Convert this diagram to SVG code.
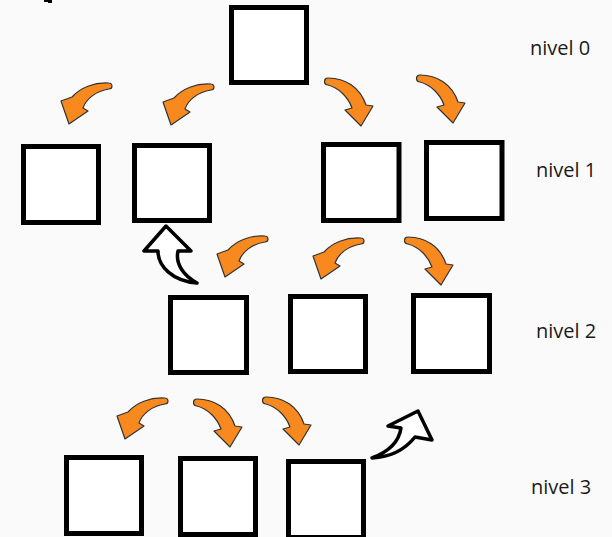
<svg xmlns="http://www.w3.org/2000/svg" width="612" height="537" viewBox="0 0 612 537">
  <style>
    .box { fill: #ffffff; stroke: #000000; stroke-width: 5; }
    .lbl { font-family: "Open Sans", "Noto Sans", "DejaVu Sans", sans-serif; font-size: 20px; fill: #1a1a1a; }
    .org { fill: #f7891f; stroke: #333333; stroke-width: 1.2; stroke-linejoin: round; }
    .wht { fill: #ffffff; stroke: #000000; stroke-width: 3.5; stroke-linejoin: round; }
  </style>
  <defs>
    <path id="arrL" class="org" d="M48,1 C33,0 19,6 11,15 L0,19 L8,42 L27,29 L22,26 C25,17 35,9 48,7 A3,3 0 0 0 48,1 Z"/>
    <path id="arrR" class="org" d="M3,1 C20,1 35,10 41,28 L48,29 L36,49 L20,33 L27,31 C23,20 14,11 3,8 A3.5,3.5 0 0 1 3,1 Z"/>
  </defs>
  <rect x="0" y="0" width="612" height="537" fill="#fafafa"/>
  <path d="M44,0 H52 V3 H48 V2 H44 Z" fill="#000"/>

  <g id="connectors">
    <use href="#arrL" x="61" y="82"/>
    <use href="#arrL" x="163" y="83"/>
    <use href="#arrR" x="325" y="77"/>
    <use href="#arrR" x="417" y="74"/>
    <use href="#arrL" x="217" y="235"/>
    <use href="#arrL" x="313" y="237"/>
    <use href="#arrR" x="405" y="236"/>
    <use href="#arrL" x="117" y="397"/>
    <use href="#arrR" x="194" y="398"/>
    <use href="#arrR" x="263" y="396"/>
    <path class="wht" d="M166,226 L144,251 L158,251 C158,266 172,281 197,283 C184,276 175,264 178,251 L191,251 Z"/>
    <path class="wht" d="M418,411 L388,426 L401,428 C399,442 388,452 372,458 C393,457 407,447 415,437 L432,440 Z"/>
  </g>

  <g id="n0"><rect class="box" x="231.5" y="7.5" width="75" height="75"/></g>
  <g id="n1a"><rect class="box" x="23.5" y="146.5" width="75" height="76"/></g>
  <g id="n1b"><rect class="box" x="134.5" y="145.5" width="75" height="75"/></g>
  <g id="n1c"><rect class="box" x="323.5" y="144.5" width="75.5" height="76"/></g>
  <g id="n1d"><rect class="box" x="426.5" y="142.5" width="75.5" height="76"/></g>
  <g id="n2a"><rect class="box" x="170.5" y="297.5" width="76" height="75"/></g>
  <g id="n2b"><rect class="box" x="290.5" y="296.5" width="75" height="75"/></g>
  <g id="n2c"><rect class="box" x="413.5" y="295.5" width="76" height="76"/></g>
  <g id="n3a"><rect class="box" x="66.5" y="457.5" width="75" height="76"/></g>
  <g id="n3b"><rect class="box" x="180.5" y="458.5" width="75" height="76"/></g>
  <g id="n3c"><rect class="box" x="288.5" y="461.5" width="75" height="76"/></g>

  <g id="labels">
    <text class="lbl" x="530" y="55">nivel 0</text>
    <text class="lbl" x="536" y="177">nivel 1</text>
    <text class="lbl" x="536" y="338">nivel 2</text>
    <text class="lbl" x="531" y="494">nivel 3</text>
  </g>
</svg>
